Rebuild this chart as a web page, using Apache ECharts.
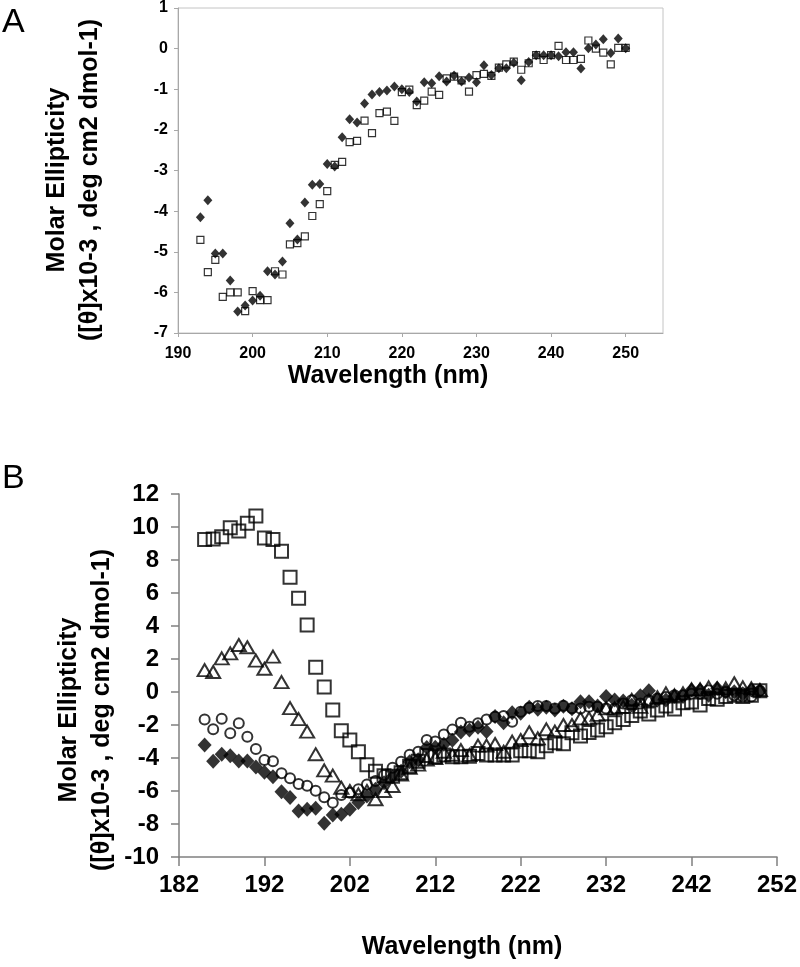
<!DOCTYPE html>
<html>
<head>
<meta charset="utf-8">
<script src="https://cdn.jsdelivr.net/npm/echarts@6/dist/echarts.min.js"></script>
<style>
html,body{margin:0;padding:0;background:#fff;}
#chart{width:800px;height:967px;}
</style>
</head>
<body>
<div id="chart"></div>
<script>
// ---------- Panel A data ----------
const aWavelength = [193,194,195,196,197,198,199,200,201,202,203,204,205,206,207,208,209,210,211,212,213,214,215,216,217,218,219,220,221,222,223,224,225,226,227,228,229,230,231,232,233,234,235,236,237,238,239,240,241,242,243,244,245,246,247,248,249,250];
const aDiamond = [-4.15,-3.73,-5.04,-5.04,-5.71,-6.47,-6.32,-6.2,-6.08,-5.48,-5.56,-5.24,-4.3,-4.7,-3.79,-3.35,-3.33,-2.84,-2.9,-2.18,-1.74,-1.82,-1.35,-1.13,-1.07,-1.03,-0.93,-1.0,-1.07,-1.3,-0.83,-0.85,-0.68,-0.81,-0.66,-0.81,-0.71,-0.83,-0.41,-0.65,-0.48,-0.48,-0.35,-0.78,-0.33,-0.16,-0.16,-0.16,-0.19,-0.09,-0.09,-0.49,0.01,0.1,0.23,-0.11,0.25,0.01];
const aSquare = [-4.71,-5.5,-5.2,-6.11,-6.0,-6.0,-6.46,-5.97,-6.19,-6.19,-5.48,-5.56,-4.82,-4.79,-4.62,-4.12,-3.83,-3.51,-2.86,-2.79,-2.3,-2.27,-1.77,-2.08,-1.59,-1.55,-1.78,-1.07,-1.01,-1.39,-1.28,-1.06,-1.14,-0.73,-0.69,-0.78,-1.06,-0.65,-0.62,-0.67,-0.47,-0.39,-0.32,-0.52,-0.36,-0.16,-0.28,-0.16,0.07,-0.28,-0.28,-0.25,0.2,0,-0.1,-0.39,0.02,0.02];

// ---------- Panel B data ----------
const bWavelength = [185,186,187,188,189,190,191,192,193,194,195,196,197,198,199,200,201,202,203,204,205,206,207,208,209,210,211,212,213,214,215,216,217,218,219,220,221,222,223,224,225,226,227,228,229,230,231,232,233,234,235,236,237,238,239,240,241,242,243,244,245,246,247,248,249,250];
const bSquare = [9.25,9.27,9.41,9.96,9.76,10.22,10.67,9.33,9.25,8.53,6.95,5.68,4.06,1.5,0.3,-1.09,-2.35,-2.91,-3.62,-4.41,-4.8,-5.07,-5.1,-4.9,-4.5,-4.2,-3.85,-3.92,-3.82,-3.92,-3.92,-3.9,-3.72,-3.82,-3.82,-3.82,-3.82,-3.56,-3.56,-3.62,-3.25,-3.07,-3.13,-2.47,-2.67,-2.46,-2.3,-2.1,-1.86,-1.66,-1.43,-1.15,-1.33,-1.09,-0.85,-1.03,-0.65,-0.6,-0.79,-0.4,-0.44,-0.28,-0.2,-0.28,-0.2,0.08];
const bTriangle = [1.33,1.21,2.04,2.34,2.85,2.71,1.9,1.41,2.14,0.6,-0.98,-1.64,-2.4,-3.77,-4.75,-5.07,-5.8,-6.0,-6.2,-6.0,-6.5,-6.0,-5.7,-5.0,-4.6,-4.4,-4.1,-4.0,-3.62,-3.8,-3.52,-3.82,-3.25,-3.25,-3.15,-3.62,-3.01,-2.91,-2.44,-2.81,-2.26,-2.4,-2.0,-2.0,-1.6,-1.6,-1.39,-0.99,-0.99,-0.9,-0.48,-0.9,-0.5,-0.32,-0.08,-0.2,-0.08,0.16,0.16,0.28,0.22,0.22,0.53,0.28,0.22,0.12];
const bCircle = [-1.66,-2.26,-1.62,-2.5,-1.9,-2.71,-3.45,-4.12,-4.2,-4.93,-5.23,-5.58,-5.68,-5.98,-6.38,-6.71,-6.24,-6.1,-5.9,-5.6,-5.4,-5.03,-4.59,-4.22,-3.8,-3.62,-2.91,-3.0,-2.58,-2.28,-1.86,-2.1,-1.9,-1.66,-1.5,-1.45,-1.8,-1.2,-0.95,-0.85,-0.85,-1.0,-0.84,-0.99,-1.0,-0.89,-0.9,-1.0,-1.0,-0.7,-0.5,-0.7,-0.5,-0.4,-0.3,-0.2,-0.2,-0.1,-0.1,0.1,-0.1,0,-0.2,-0.28,-0.28,0.08];
const bDiamond = [-3.21,-4.19,-3.78,-3.86,-4.18,-4.18,-4.55,-4.87,-5.13,-6.04,-6.4,-7.21,-7.11,-7.05,-7.96,-7.45,-7.41,-7.1,-6.7,-6.3,-5.9,-5.5,-5.13,-4.8,-4.22,-4.1,-3.36,-3.35,-3.17,-2.93,-2.42,-2.3,-2.14,-2.4,-1.49,-1.86,-1.25,-1.29,-0.93,-1.05,-0.93,-1.09,-0.87,-1.02,-0.59,-0.59,-0.85,-0.28,-0.48,-0.55,-0.8,-0.22,0.08,-0.48,-0.48,-0.25,-0.28,0.12,0.12,-0.2,0.22,0.02,0.02,-0.1,0.12,0.08];

// ---------- Axis settings / labels ----------
const aXRange = [190, 255], aXStep = 10;
const aYRange = [-7, 1], aYStep = 1;
const bXRange = [182, 252], bXStep = 10;
const bYRange = [-10, 12], bYStep = 2;
const yTitle1 = 'Molar Ellipticity';
const yTitle2 = '([\u03B8]x10-3 , deg cm2 dmol-1)';
const xTitle = 'Wavelength (nm)';

const FONT = '"Liberation Sans", Arial, sans-serif';
const pairs = (xs, ys) => xs.map((x, i) => [x, ys[i]]);

const chart = echarts.init(document.getElementById('chart'), null, {renderer: 'canvas'});

const openStyle = (w) => ({color: 'rgba(0,0,0,0)', borderColor: '#000', borderWidth: w});

const option = {
  animation: false,
  backgroundColor: '#fff',
  grid: [
    {left: 178, top: 6, width: 485, height: 327, show: true, borderColor: '#c4c4c4', borderWidth: 1, backgroundColor: '#fff'},
    {left: 179, top: 494, width: 600, height: 363}
  ],
  xAxis: [
    {gridIndex: 0, type: 'value', min: aXRange[0], max: aXRange[1], interval: aXStep,
     axisLine: {onZero: false, lineStyle: {color: '#a8a8a8'}}, axisTick: {length: 4, lineStyle: {color: '#a8a8a8'}},
     splitLine: {show: false},
     axisLabel: {color: '#000', fontWeight: 'bold', fontSize: 16, fontFamily: FONT, margin: 13, showMaxLabel: false}},
    {gridIndex: 1, type: 'value', min: bXRange[0], max: bXRange[1], interval: bXStep,
     axisLine: {onZero: false, lineStyle: {color: '#808080', width: 1.5}}, axisTick: {length: 9, lineStyle: {color: '#808080', width: 1.5}},
     splitLine: {show: false},
     axisLabel: {color: '#000', fontWeight: 'bold', fontSize: 24, fontFamily: FONT, margin: 16}}
  ],
  yAxis: [
    {gridIndex: 0, type: 'value', min: aYRange[0], max: aYRange[1], interval: aYStep,
     axisLine: {show: true, onZero: false, lineStyle: {color: '#a8a8a8'}}, axisTick: {show: true, length: 4, lineStyle: {color: '#a8a8a8'}},
     splitLine: {show: false},
     axisLabel: {color: '#000', fontWeight: 'bold', fontSize: 16, fontFamily: FONT, margin: 10}},
    {gridIndex: 1, type: 'value', min: bYRange[0], max: bYRange[1], interval: bYStep,
     axisLine: {show: true, onZero: false, lineStyle: {color: '#808080', width: 1.5}}, axisTick: {show: true, length: 8, lineStyle: {color: '#808080', width: 1.5}},
     splitLine: {show: false},
     axisLabel: {color: '#000', fontWeight: 'bold', fontSize: 24, fontFamily: FONT, margin: 20}}
  ],
  series: [
    {type: 'scatter', xAxisIndex: 0, yAxisIndex: 0, data: pairs(aWavelength, aSquare),
     symbol: 'rect', symbolSize: 7, itemStyle: openStyle(1.2)},
    {type: 'scatter', xAxisIndex: 0, yAxisIndex: 0, data: pairs(aWavelength, aDiamond),
     symbol: 'diamond', symbolSize: [9, 10], itemStyle: {color: '#000'}},
    {type: 'scatter', xAxisIndex: 1, yAxisIndex: 1, data: pairs(bWavelength, bSquare),
     symbol: 'rect', symbolSize: 13, itemStyle: openStyle(2)},
    {type: 'scatter', xAxisIndex: 1, yAxisIndex: 1, data: pairs(bWavelength, bTriangle),
     symbol: 'triangle', symbolSize: [14, 12], itemStyle: openStyle(2)},
    {type: 'scatter', xAxisIndex: 1, yAxisIndex: 1, data: pairs(bWavelength, bCircle),
     symbol: 'circle', symbolSize: 10, itemStyle: openStyle(2)},
    {type: 'scatter', xAxisIndex: 1, yAxisIndex: 1, data: pairs(bWavelength, bDiamond),
     symbol: 'diamond', symbolSize: [14, 15], itemStyle: {color: '#000'}}
  ],
  graphic: [
    {type: 'text', left: 2, top: 6, style: {text: 'A', font: '34px ' + FONT, fill: '#000'}},
    {type: 'text', left: 2, top: 462, style: {text: 'B', font: '34px ' + FONT, fill: '#000'}},
    {type: 'text', x: 57, y: 180, rotation: Math.PI / 2, style: {text: yTitle1, font: 'bold 25px ' + FONT, fill: '#000', align: 'center', verticalAlign: 'middle'}},
    {type: 'text', x: 90, y: 180, rotation: Math.PI / 2, style: {text: yTitle2, font: 'bold 25px ' + FONT, fill: '#000', align: 'center', verticalAlign: 'middle'}},
    {type: 'text', x: 388, y: 376, style: {text: xTitle, font: 'bold 25px ' + FONT, fill: '#000', align: 'center', verticalAlign: 'middle'}},
    {type: 'text', x: 69, y: 710, rotation: Math.PI / 2, style: {text: yTitle1, font: 'bold 25px ' + FONT, fill: '#000', align: 'center', verticalAlign: 'middle'}},
    {type: 'text', x: 102, y: 710, rotation: Math.PI / 2, style: {text: yTitle2, font: 'bold 25px ' + FONT, fill: '#000', align: 'center', verticalAlign: 'middle'}},
    {type: 'text', x: 462, y: 947, style: {text: xTitle, font: 'bold 25px ' + FONT, fill: '#000', align: 'center', verticalAlign: 'middle'}}
  ]
};
chart.setOption(option);
</script>
</body>
</html>
